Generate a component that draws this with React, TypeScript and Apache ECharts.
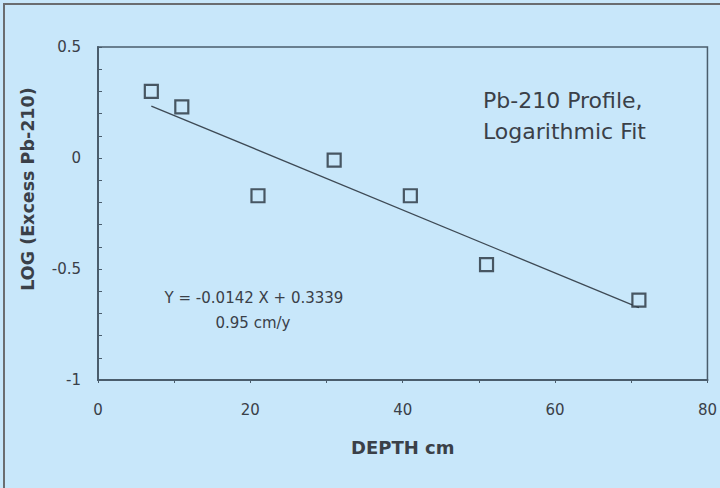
import React, { useEffect, useRef } from "react";
import * as echarts from "echarts";

const depth = [7, 11, 21, 31, 41, 51, 71];
const logExcess = [0.3, 0.23, -0.17, -0.01, -0.17, -0.48, -0.64];
const fitX = [7, 71];
const fitY = [0.234, -0.674];
const xTickLabels = ["0", "20", "40", "60", "80"];
const yTickLabels = ["0.5", "0", "-0.5", "-1"];
const titleLines = ["Pb-210 Profile,", "Logarithmic Fit"];
const equationLines = ["Y = -0.0142 X + 0.3339", "0.95 cm/y"];

const FONT = "DejaVu Sans, Verdana, sans-serif";
const TEXT = "#3a4048";
const AXIS = "#4a5d6c";

export default function App() {
  const ref = useRef<HTMLDivElement>(null);
  useEffect(() => {
    const chart = echarts.init(ref.current!, null, { renderer: "svg" });
    const fmtX = (v: number) => {
      const s = String(Math.round(v));
      return xTickLabels.includes(s) ? s : "";
    };
    const fmtY = (v: number) => {
      const r = Math.round(v * 10) / 10;
      const s = String(r);
      return yTickLabels.includes(s) ? s : "";
    };
    chart.setOption({
      animation: false,
      backgroundColor: "#c8e7fa",
      textStyle: { fontFamily: FONT },
      grid: {
        left: 98,
        right: 12,
        top: 47,
        bottom: 108,
        show: true,
        borderColor: AXIS,
        borderWidth: 1.5,
        backgroundColor: "transparent",
      },
      xAxis: {
        type: "value",
        min: 0,
        max: 80,
        interval: 10,
        name: "DEPTH cm",
        nameLocation: "middle",
        nameGap: 58,
        nameTextStyle: { fontSize: 18, fontWeight: "bold", color: TEXT, fontFamily: FONT },
        axisLine: { show: true, onZero: false, lineStyle: { color: AXIS, width: 2 } },
        axisTick: { show: true, length: 3, lineStyle: { color: AXIS, width: 1 } },
        axisLabel: {
          formatter: fmtX,
          fontSize: 15,
          color: TEXT,
          margin: 22,
          fontFamily: FONT,
          showMinLabel: true,
          showMaxLabel: true,
        },
        splitLine: { show: false },
      },
      yAxis: {
        type: "value",
        min: -1,
        max: 0.5,
        interval: 0.1,
        axisLine: { show: true, onZero: false, lineStyle: { color: AXIS, width: 2 } },
        axisTick: { show: true, inside: true, length: 4, lineStyle: { color: AXIS, width: 1 } },
        axisLabel: {
          formatter: fmtY,
          fontSize: 15,
          color: TEXT,
          margin: 17,
          fontFamily: FONT,
          showMinLabel: true,
          showMaxLabel: true,
        },
        splitLine: { show: false },
      },
      graphic: [
        {
          type: "rect",
          shape: { x: 4, y: 4, width: 720, height: 490 },
          style: { fill: "none", stroke: "#6a6d70", lineWidth: 2 },
          silent: true,
        },
        {
          type: "text",
          x: 28,
          y: 189,
          rotation: Math.PI / 2,
          style: {
            text: "LOG (Excess Pb-210)",
            font: `bold 17.5px ${FONT}`,
            fill: TEXT,
            align: "center",
            verticalAlign: "middle",
          },
        },
        {
          type: "text",
          x: 483,
          y: 100,
          style: {
            text: titleLines[0],
            font: `22px ${FONT}`,
            fill: TEXT,
            align: "left",
            verticalAlign: "middle",
          },
        },
        {
          type: "text",
          x: 483,
          y: 131,
          style: {
            text: titleLines[1],
            font: `22px ${FONT}`,
            fill: TEXT,
            align: "left",
            verticalAlign: "middle",
          },
        },
        {
          type: "text",
          x: 254,
          y: 298,
          style: {
            text: equationLines[0],
            font: `15px ${FONT}`,
            fill: TEXT,
            align: "center",
            verticalAlign: "middle",
          },
        },
        {
          type: "text",
          x: 253,
          y: 323,
          style: {
            text: equationLines[1],
            font: `15px ${FONT}`,
            fill: TEXT,
            align: "center",
            verticalAlign: "middle",
          },
        },
      ],
      series: [
        {
          type: "line",
          data: fitX.map((x, i) => [x, fitY[i]]),
          symbol: "none",
          lineStyle: { color: "#3e4a55", width: 1.3 },
          z: 2,
        },
        {
          type: "scatter",
          data: depth.map((x, i) => [x, logExcess[i]]),
          symbol: "rect",
          symbolSize: 13,
          itemStyle: { color: "#c8e7fa", borderColor: "#27323c", borderWidth: 2.2 },
          z: 3,
        },
      ],
    });
    return () => chart.dispose();
  }, []);
  return (
    <div
      ref={ref}
      style={{ position: "absolute", left: 0, top: 0, width: 720, height: 488 }}
    />
  );
}
